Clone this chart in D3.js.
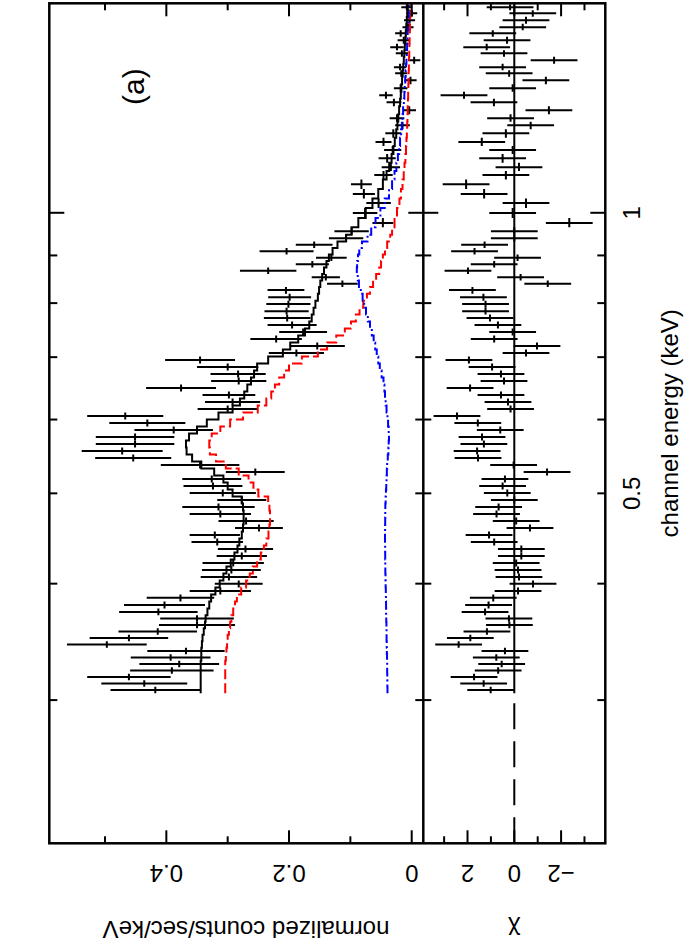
<!DOCTYPE html>
<html><head><meta charset="utf-8">
<script src="https://cdn.jsdelivr.net/npm/d3@7"></script>
<style>
body{margin:0;background:#fff}
text{font-family:"Liberation Sans",Arial,Helvetica,sans-serif;fill:#000}
</style>
</head><body>
<svg id="chart" width="685" height="946"></svg>
<script>
// ---- data (bin centre energies in keV) ----
const energy = [0.3075,0.3125,0.3176,0.3227,0.3280,0.3333,0.3387,0.3442,0.3498,0.3555,0.3612,0.3671,
 0.3730,0.3795,0.3862,0.3929,0.3998,0.4067,0.4138,0.4210,0.4284,0.4358,0.4434,0.4512,
 0.4590,0.4670,0.4751,0.4834,0.4919,0.5004,0.5092,0.5180,0.5271,0.5363,0.5456,0.5551,
 0.5648,0.5746,0.5847,0.5949,0.6052,0.6158,0.6265,0.6374,0.6485,0.6598,0.6713,0.6830,
 0.6950,0.7071,0.7194,0.7319,0.7447,0.7577,0.7709,0.7843,0.7980,0.8119,0.8261,0.8394,
 0.8530,0.8668,0.8808,0.8951,0.9096,0.9243,0.9392,0.9556,0.9749,0.9993,1.0243,1.0473,
 1.0734,1.0976,1.1194,1.1446,1.1675,1.1908,1.2175,1.2418,1.2635,1.2887,1.3144,1.3374,
 1.3607,1.3878,1.4120,1.4330,1.4581,1.4835,1.5056,1.5319,1.5586,1.5818,1.6094,1.6375,1.6619];
// normalized counts/sec/keV
const rate = [.418,.436,.461,.391,.379,.393,.368,.497,.461,.414,.350,.350,
 .413,.403,.377,.312,.282,.298,.294,.291,.277,.271,.317,.321,
 .249,.270,.312,.315,.277,.308,.324,.326,.255,.345,.454,.472,
 .451,.451,.388,.431,.467,.300,.292,.298,.376,.282,.283,.300,
 .345,.188,.154,.221,.177,.195,.203,.204,.201,.199,.205,.113,
 .140,.234,.162,.131,.204,.159,.107,.098,.047,.076,.054,.078,
 .082,.046,.034,.040,.031,.046,.030,.015,.024,.004,.029,.042,
 .018,.002,.017,.019,-.004,.016,.024,.013,.018,.006,.0035,.000,.008];
const rateErr = [.073,.070,.068,.068,.065,.065,.063,.065,.064,.064,.062,.060,
 .064,.066,.055,.050,.039,.046,.048,.050,.041,.045,.042,.041,
 .039,.045,.050,.059,.040,.054,.048,.048,.048,.064,.062,.066,
 .064,.064,.064,.062,.062,.049,.045,.043,.057,.045,.045,.050,
 .057,.045,.045,.042,.039,.040,.038,.036,.036,.035,.030,.025,
 .023,.046,.027,.025,.044,.030,.028,.028,.017,.020,.020,.018,
 .017,.015,.015,.014,.014,.013,.013,.012,.012,.011,.012,.011,
 .011,.010,.010,.010,.010,.010,.011,.010,.009,.009,.009,.009,.009];
// residuals (chi)
const chi = [1.01,1.31,1.72,0.69,0.54,0.77,0.40,2.38,1.88,1.17,0.21,0.23,
 1.25,1.10,0.90,-0.16,-0.80,-0.20,-0.16,-0.08,-0.30,-0.30,0.86,1.08,
 -0.67,-0.08,0.76,0.67,0.00,0.30,0.50,0.40,-1.40,0.03,1.55,1.59,
 1.30,1.38,0.60,1.56,2.45,0.16,0.27,0.57,1.89,0.44,0.57,0.95,
 1.94,-0.50,-0.97,0.86,0.07,0.70,1.04,1.23,1.23,1.32,1.79,-1.43,
 -0.27,1.98,0.86,-0.14,1.70,1.27,0.00,0.00,-2.35,0.07,-0.50,1.29,
 2.06,0.36,-0.20,0.50,0.07,1.39,0.36,-0.70,0.16,-1.48,0.87,2.15,
 0.07,-1.35,0.22,0.50,-1.70,0.44,1.18,0.31,0.92,-0.36,-0.50,-0.79,0.18];
// model: total (black), soft component (red), hard component (blue)
const modelTotal = [.344,.344,.344,.344,.344,.343,.343,.342,.341,.339,.337,.336,
 .333,.330,.327,.320,.313,.307,.302,.295,.289,.284,.281,.277,
 .275,.274,.274,.275,.277,.292,.300,.307,.322,.343,.358,.367,
 .368,.363,.350,.334,.315,.292,.280,.273,.268,.262,.257,.252,
 .234,.210,.198,.185,.174,.167,.163,.160,.157,.153,.151,.149,
 .146,.143,.139,.135,.129,.121,.107,.098,.087,.075,.064,.0545,
 .047,.041,.0367,.0328,.0298,.0276,.0252,.0233,.0219,.0205,.0189,.0178,
 .0168,.0157,.0147,.0138,.0129,.012,.0112,.0104,.0096,.0088,.008,.0072,.0065];
const modelSoft = [.304,.304,.304,.304,.304,.303,.302,.301,.300,.298,.296,.294,
 .291,.288,.285,.278,.270,.264,.259,.252,.246,.241,.237,.2335,
 .232,.231,.231,.232,.234,.250,.258,.266,.282,.303,.319,.329,
 .330,.326,.312,.296,.275,.251,.237,.229,.223,.216,.208,.200,
 .179,.153,.138,.123,.109,.099,.091,.085,.079,.073,.068,.063,
 .058,.053,.050,.047,.0435,.040,.035,.032,.028,.024,.020,.0175,
 .015,.013,.0117,.0103,.0093,.0086,.0079,.0073,.0069,.0065,.0061,.0058,
 .0055,.0052,.0049,.0046,.0043,.0040,.0037,.0034,.0031,.0028,.0025,.0022,.0020];
const modelHard = [.0395,.0397,.0398,.040,.040,.0402,.0405,.0407,.041,.041,.0412,.0415,
 .0417,.0418,.042,.0422,.0425,.0427,.043,.0431,.0432,.0433,.0435,.0435,
 .0434,.0432,.0431,.043,.0425,.042,.0415,.041,.0405,.040,.039,.038,
 .0375,.037,.0375,.0385,.0395,.041,.0425,.0435,.0445,.046,.049,.052,
 .0545,.057,.0595,.062,.065,.068,.0715,.0745,.0775,.080,.083,.086,
 .088,.0895,.089,.0875,.0855,.081,.072,.066,.059,.051,.044,.037,
 .032,.028,.025,.0225,.0205,.019,.0173,.016,.015,.014,.0128,.012,
 .0113,.0105,.0098,.0092,.0086,.0080,.0075,.0070,.0065,.0060,.0055,.0050,.0045];

// ---- axes ----
const energyDomain = [0.2106, 1.678];
const rateDomain = [-0.0189, 0.5908];
const chiDomain = [-3.89, 3.89];
const energyTicks = [0.3,0.4,0.5,0.6,0.7,0.8,0.9,1];
const energyMajor = [1];
const energyLabels = [0.5, 1];
const rateTicks = [0,0.1,0.2,0.3,0.4,0.5];
const rateLabels = [0,0.2,0.4];
const chiTicks = [-3,-2,-1,0,1,2,3];
const chiLabels = [-2,0,2];
const xLabel = "channel energy (keV)";
const yLabel = "normalized counts/sec/keV";
const chiLabel = "χ";
const panelTag = "(a)";

// ---- layout (unrotated plot, then turned -90°) ----
const L = 102.7, R = 942.7, T = 49.3, MID = 423.3, B = 605.3;
const svg = d3.select("#chart");
const g = svg.append("g").attr("transform","translate(0,946) rotate(-90)");

const x = d3.scaleLog().domain(energyDomain).range([L, R]);
const y = d3.scaleLinear().domain(rateDomain).range([MID, T]);
const yc = d3.scaleLinear().domain(chiDomain).range([B, MID]);

const defs = svg.append("defs");
defs.append("clipPath").attr("id","clipTop").append("rect")
  .attr("x",L).attr("y",T).attr("width",R-L).attr("height",MID-T);
defs.append("clipPath").attr("id","clipBot").append("rect")
  .attr("x",L).attr("y",MID).attr("width",R-L).attr("height",B-MID);

// bin edges (geometric midpoints)
const n = energy.length;
const edges = [];
for (let i=1;i<n;i++) edges[i] = Math.sqrt(energy[i-1]*energy[i]);
edges[0] = energy[0]*energy[0]/edges[1];
edges[n] = energy[n-1]*energy[n-1]/edges[n-1];

// ---- top panel ----
const topG = g.append("g").attr("clip-path","url(#clipTop)");
const dataG = topG.append("g").attr("stroke","#000").attr("stroke-width",2).attr("fill","none");
energy.forEach((e,i)=>{
  dataG.append("line").attr("x1",x(edges[i])).attr("x2",x(edges[i+1]))
    .attr("y1",y(rate[i])).attr("y2",y(rate[i]));
  dataG.append("line").attr("x1",x(e)).attr("x2",x(e))
    .attr("y1",y(rate[i]-rateErr[i])).attr("y2",y(rate[i]+rateErr[i]));
});
function stepPts(vals){
  const pts=[];
  vals.forEach((v,i)=>{pts.push([edges[i],v]);pts.push([edges[i+1],v]);});
  return pts;
}
const line = d3.line().x(d=>x(d[0])).y(d=>y(d[1]));
topG.append("path").attr("d",line(stepPts(modelSoft))).attr("fill","none")
  .attr("stroke","#ff0000").attr("stroke-width",2).attr("stroke-dasharray","10,4");
topG.append("path").attr("d",line(stepPts(modelHard))).attr("fill","none")
  .attr("stroke","#0000ff").attr("stroke-width",2).attr("stroke-dasharray","9,3,2,3");
topG.append("path").attr("d",line(stepPts(modelTotal))).attr("fill","none")
  .attr("stroke","#000").attr("stroke-width",2);

// ---- residual panel ----
const botG = g.append("g").attr("clip-path","url(#clipBot)");
botG.append("line").attr("x1",L).attr("x2",x(edges[0])).attr("y1",yc(0)).attr("y2",yc(0))
  .attr("stroke","#000").attr("stroke-width",2).attr("stroke-dasharray","26,12");
botG.append("line").attr("x1",x(edges[0])).attr("x2",R).attr("y1",yc(0)).attr("y2",yc(0))
  .attr("stroke","#000").attr("stroke-width",2);
const resG = botG.append("g").attr("stroke","#000").attr("stroke-width",2);
energy.forEach((e,i)=>{
  resG.append("line").attr("x1",x(edges[i])).attr("x2",x(edges[i+1]))
    .attr("y1",yc(chi[i])).attr("y2",yc(chi[i]));
  resG.append("line").attr("x1",x(e)).attr("x2",x(e))
    .attr("y1",yc(chi[i]-1)).attr("y2",yc(chi[i]+1));
});

// ---- frame & ticks ----
const ax = g.append("g").attr("stroke","#000").attr("fill","none");
ax.append("rect").attr("x",L).attr("y",T).attr("width",R-L).attr("height",B-T).attr("stroke-width",2.5);
ax.append("line").attr("x1",L).attr("x2",R).attr("y1",MID).attr("y2",MID).attr("stroke-width",2.5);
const tk = ax.append("g").attr("stroke-width",2);
energyTicks.forEach(t=>{
  const u = x(t), len = energyMajor.includes(t)?15:8;
  [[T,len],[MID,-len],[MID,len],[B,-len]].forEach(([v,d])=>{
    tk.append("line").attr("x1",u).attr("x2",u).attr("y1",v).attr("y2",v+d);
  });
});
rateTicks.forEach(t=>{
  const v = y(t), len = rateLabels.includes(t)?13:7;
  tk.append("line").attr("x1",L).attr("x2",L+len).attr("y1",v).attr("y2",v);
  tk.append("line").attr("x1",R).attr("x2",R-len).attr("y1",v).attr("y2",v);
});
chiTicks.forEach(t=>{
  const v = yc(t), len = chiLabels.includes(t)?13:7;
  tk.append("line").attr("x1",L).attr("x2",L+len).attr("y1",v).attr("y2",v);
  tk.append("line").attr("x1",R).attr("x2",R-len).attr("y1",v).attr("y2",v);
});

// ---- labels ----
const fs = 24;
energyLabels.forEach(t=>{
  g.append("text").attr("x",x(t)).attr("y",640).attr("text-anchor","middle")
    .attr("font-size",fs).text(String(t));
});
rateLabels.forEach(t=>{
  g.append("text").attr("transform",`translate(81,${y(t)}) rotate(-90)`)
    .attr("text-anchor","middle").attr("font-size",fs).text(String(t));
});
chiLabels.forEach(t=>{
  g.append("text").attr("transform",`translate(81,${yc(t)}) rotate(-90)`)
    .attr("text-anchor","middle").attr("font-size",fs).text(t<0?"\u2212"+Math.abs(t):String(t));
});
g.append("text").attr("x",(L+R)/2).attr("y",678).attr("text-anchor","middle")
  .attr("font-size",fs).text(xLabel);
g.append("text").attr("transform",`translate(25,246) rotate(-90)`)
  .attr("text-anchor","middle").attr("font-size",fs).text(yLabel);
g.append("text").attr("transform",`translate(24,${(MID+B)/2}) rotate(-90)`)
  .attr("text-anchor","middle").attr("font-size",fs).text(chiLabel);
g.append("text").attr("x",841).attr("y",144).attr("font-size",30).text(panelTag);
</script>
</body></html>
